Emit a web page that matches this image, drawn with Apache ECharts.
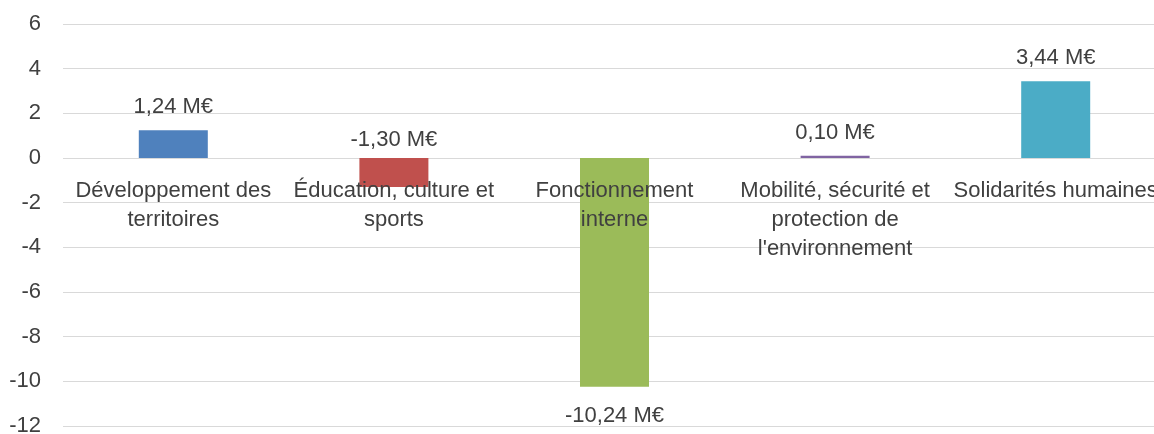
<!DOCTYPE html>
<html>
<head>
<meta charset="utf-8">
<script src="https://cdn.jsdelivr.net/npm/echarts@6/dist/echarts.min.js"></script>
<style>
  html, body { margin: 0; padding: 0; background: #fff; }
  #chart { width: 1154px; height: 434px; }
</style>
</head>
<body>
<div id="chart"></div>
<script>
// données (M€)
const categories = [
  'Développement des territoires',
  'Éducation, culture et sports',
  'Fonctionnement interne',
  'Mobilité, sécurité et protection de l\'environnement',
  'Solidarités humaines'
]
const values = [1.24, -1.30, -10.24, 0.10, 3.44]
const yTicks = [-12, -10, -8, -6, -4, -2, 0, 2, 4, 6]

// style
const barColors = ['#4f81bd', '#c0504d', '#9bbb59', '#8064a2', '#4bacc6']
const labelSide = ['top', 'top', 'bottom', 'top', 'top']
const font = "'Liberation Sans', Arial, sans-serif"
const fontSize = 22
const textColor = '#404040'

const gridTop = 24
const gridHeight = 402
const yMin = yTicks[0]
const yMax = yTicks[yTicks.length - 1]
// axe des catégories posé sur la ligne du zéro
const zeroOffset = gridHeight * (0 - yMin) / (yMax - yMin)

// retour à la ligne mot par mot, comme dans le graphique d'origine
const ctx = document.createElement('canvas').getContext('2d')
ctx.font = fontSize + 'px ' + font
function wrap (text, maxWidth) {
  let lines = []
  let line = ''
  text.split(' ').forEach(function (word) {
    let test = line ? line + ' ' + word : word
    if (line && ctx.measureText(test).width > maxWidth) {
      lines.push(line)
      line = word
    } else {
      line = test
    }
  })
  lines.push(line)
  return lines.join('\n')
}

const chart = echarts.init(document.getElementById('chart'))

chart.setOption({
  animation: false,
  grid: {
    left: 63,
    top: gridTop,
    width: 1103,
    height: gridHeight,
    containLabel: false,
    outerBoundsMode: 'none'
  },
  xAxis: {
    type: 'category',
    data: categories,
    position: 'bottom',
    offset: -zeroOffset,
    z: 10,
    axisLine: { show: false, onZero: false },
    axisTick: { show: false },
    axisLabel: {
      interval: 0,
      hideOverlap: false,
      margin: 18,
      lineHeight: 29,
      fontSize: fontSize,
      fontFamily: font,
      color: textColor,
      formatter: function (v) {
        return wrap(v, 210)
      }
    }
  },
  yAxis: {
    type: 'value',
    min: yMin,
    max: yMax,
    interval: 2,
    axisLine: { show: false },
    axisTick: { show: false },
    axisLabel: {
      margin: 22,
      fontSize: fontSize,
      fontFamily: font,
      color: textColor
    },
    splitLine: { lineStyle: { color: '#d9d9d9', width: 1 } }
  },
  series: [{
    type: 'bar',
    barWidth: 69,
    data: values.map(function (v, i) {
      return {
        value: v,
        itemStyle: { color: barColors[i] },
        label: {
          position: labelSide[i],
          distance: labelSide[i] === 'bottom' ? 18 : (v < 0 ? 7 : 12)
        }
      }
    }),
    label: {
      show: true,
      fontSize: fontSize,
      fontFamily: font,
      color: textColor,
      formatter: function (p) {
        return p.value.toFixed(2).replace('.', ',') + ' M€'
      }
    }
  }]
})
</script>
</body>
</html>
